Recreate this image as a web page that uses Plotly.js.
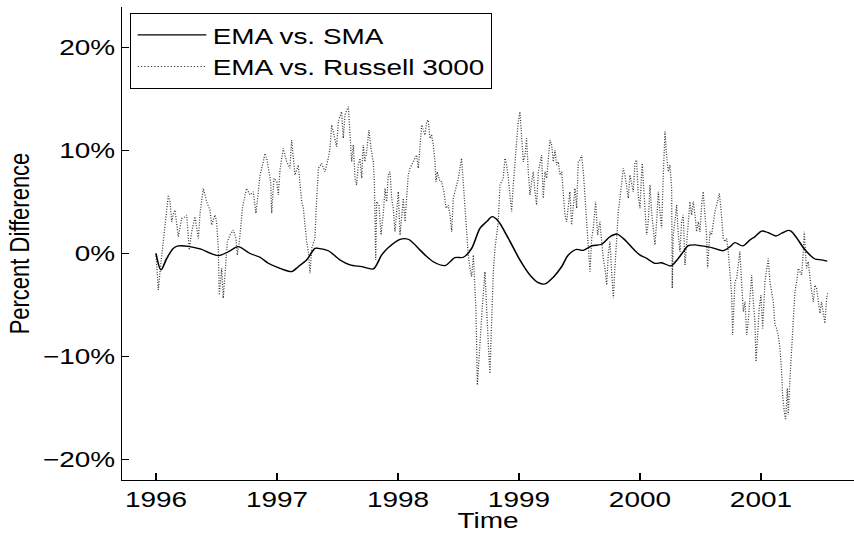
<!DOCTYPE html>
<html>
<head>
<meta charset="utf-8">
<script src="https://cdn.plot.ly/plotly-3.0.1.min.js"></script>
<style>
html,body{margin:0;padding:0;background:#fff;overflow:hidden;width:854px;height:533px;}
#chart{width:672px;height:533px;transform:scaleX(1.2708);transform-origin:0 0;}
</style>
</head>
<body>
<div id="chart"></div>
<script>
// EMA vs. SMA (percent difference)
const smaYears = [1996.000,1996.041,1996.088,1996.143,1996.184,1996.267,1996.364,1996.515,1996.598,1996.680,1996.777,1996.860,1996.928,1997.025,1997.121,1997.176,1997.245,1997.314,1997.341,1997.424,1997.521,1997.603,1997.700,1997.796,1997.865,1997.920,1998.017,1998.085,1998.182,1998.220,1998.292,1998.388,1998.471,1998.540,1998.609,1998.678,1998.733,1998.779,1998.829,1998.912,1999.008,1999.091,1999.160,1999.215,1999.283,1999.353,1999.407,1999.477,1999.531,1999.601,1999.684,1999.752,1999.812,1999.876,1999.945,2000.000,2000.055,2000.124,2000.179,2000.256,2000.317,2000.358,2000.399,2000.455,2000.496,2000.593,2000.689,2000.744,2000.785,2000.849,2000.909,2000.950,2001.006,2001.060,2001.124,2001.171,2001.226,2001.250,2001.295,2001.350,2001.405,2001.446,2001.502,2001.548];
const smaPct = [0.0,-1.6,-0.5,0.5,0.73,0.7,0.44,-0.2,0.17,0.66,0.0,-0.37,-0.95,-1.44,-1.76,-1.28,-0.63,0.5,0.5,0.27,-0.63,-1.1,-1.28,-1.5,-0.15,0.57,1.38,1.38,0.34,-0.1,-0.8,-1.18,-0.4,-0.37,0.5,2.45,3.09,3.57,3.15,1.47,-0.63,-2.09,-2.83,-2.96,-2.31,-1.28,-0.15,0.4,0.3,0.73,0.9,1.63,1.89,1.31,0.44,-0.15,-0.47,-0.95,-0.9,-1.21,-0.47,0.17,0.76,0.83,0.76,0.57,0.27,0.66,1.05,0.73,1.31,1.63,2.18,2.02,1.7,1.96,2.25,2.15,1.53,0.57,-0.15,-0.53,-0.63,-0.73];

// EMA vs. Russell 3000 (percent difference)
const rusYears = [
1996.000,1996.019,1996.040,1996.074,1996.102,1996.116,1996.130,1996.143,1996.157,1996.184,1996.212,1996.226,1996.254,1996.275,1996.295,1996.322,1996.350,1996.364,1996.391,1996.419,1996.446,1996.460,1996.488,1996.501,1996.515,1996.523,1996.543,1996.556,1996.579,1996.590,1996.612,1996.639,1996.661,1996.672,1996.689,1996.700,1996.716,1996.749,1996.777,1996.804,1996.826,1996.846,1996.860,1996.887,1996.901,1996.915,1996.928,1996.948,1996.956,1996.975,1996.998,1997.011,1997.025,1997.052,1997.080,1997.107,
1997.121,1997.135,1997.149,1997.176,1997.190,1997.204,1997.218,1997.231,1997.245,1997.259,1997.273,1997.287,1997.314,1997.322,1997.333,1997.342,1997.369,1997.397,1997.424,1997.438,1997.452,1997.479,1997.493,1997.507,1997.534,1997.548,1997.562,1997.590,1997.603,1997.617,1997.631,1997.645,1997.658,1997.672,1997.686,1997.700,1997.713,1997.727,1997.741,1997.760,1997.777,1997.796,1997.805,1997.816,1997.824,1997.843,1997.860,1997.879,1997.893,1997.906,1997.920,1997.934,1997.948,1997.961,1997.975,1997.989,1998.003,1998.017,1998.030,1998.044,1998.058,1998.072,1998.085,1998.099,1998.127,1998.154,1998.168,1998.182,1998.196,1998.223,
1998.237,1998.251,1998.264,1998.278,1998.292,1998.306,1998.314,1998.325,1998.333,1998.347,1998.361,1998.380,1998.397,1998.416,1998.430,1998.444,1998.457,1998.471,1998.499,1998.526,1998.540,1998.554,1998.567,1998.581,1998.595,1998.609,1998.623,1998.636,1998.645,1998.656,1998.672,1998.686,1998.700,1998.719,1998.733,1998.747,1998.760,1998.774,1998.788,1998.802,1998.815,1998.829,1998.843,1998.870,1998.884,1998.898,1998.912,1998.926,1998.939,1998.953,1998.967,1998.981,1998.994,1999.008,1999.022,1999.036,1999.050,1999.063,1999.077,1999.091,1999.105,1999.118,1999.132,1999.146,1999.160,1999.174,1999.187,1999.201,1999.215,1999.229,1999.242,1999.256,1999.270,1999.284,1999.298,1999.311,1999.325,1999.339,
1999.353,1999.366,1999.380,1999.394,1999.408,1999.421,1999.435,1999.449,1999.463,1999.477,1999.490,1999.504,1999.518,1999.532,1999.545,1999.559,1999.573,1999.587,1999.601,1999.614,1999.634,1999.650,1999.669,1999.683,1999.697,1999.711,1999.725,1999.738,1999.752,1999.766,1999.780,1999.793,1999.807,1999.821,1999.835,1999.848,1999.862,1999.876,1999.890,1999.904,1999.917,1999.931,1999.945,1999.959,1999.972,1999.986,2000.000,2000.014,2000.019,2000.028,2000.041,2000.055,2000.069,2000.083,2000.096,2000.110,2000.124,2000.138,2000.152,2000.165,2000.179,2000.193,2000.207,2000.220,2000.234,2000.248,2000.262,2000.267,2000.275,2000.289,2000.303,2000.317,2000.331,2000.344,2000.358,2000.372,2000.386,2000.399,2000.413,2000.427,2000.441,2000.455,
2000.468,2000.482,2000.496,2000.510,2000.523,2000.537,2000.551,2000.559,2000.570,2000.579,2000.592,2000.606,2000.620,2000.634,2000.647,2000.656,2000.669,2000.680,2000.689,2000.703,2000.716,2000.730,2000.744,2000.758,2000.766,2000.777,2000.785,2000.799,2000.813,2000.826,2000.840,2000.854,2000.868,2000.882,2000.895,2000.909,2000.923,2000.937,2000.950,2000.959,2000.970,2000.986,2001.000,2001.014,2001.025,2001.033,2001.047,2001.061,2001.074,2001.088,2001.102,2001.116,2001.129,2001.143,2001.157,2001.171,2001.179,2001.193,2001.204,2001.218,2001.226,2001.240,2001.254,2001.267,2001.281,2001.295,2001.309,2001.322,2001.336,2001.350,2001.358,2001.369,2001.377,2001.391,2001.405,2001.419,2001.433,2001.446,2001.460,2001.474,2001.488,2001.501,2001.515,2001.529,2001.543,2001.551];
const rusPct = [
0.0,-3.54,-1.0,2.45,5.68,5.03,3.09,3.8,4.22,1.63,3.41,3.41,3.74,0.34,2.12,3.58,1.46,3.9,6.33,5.03,4.22,2.77,3.74,3.09,0.5,-4.03,-1.44,-4.35,-0.79,1.14,1.80,2.28,1.46,-0.15,1.14,3.09,4.55,6.33,5.68,6.0,3.9,6.0,7.62,8.91,9.72,9.24,8.11,6.97,3.9,7.3,6.97,5.68,8.11,10.21,8.91,8.27,
11.02,9.40,7.62,8.59,6.65,5.03,4.39,2.45,1.15,0.18,-1.92,0.5,1.46,3.9,6.65,8.27,8.75,7.94,9.24,10.21,12.48,11.18,10.37,12.8,13.77,11.18,13.45,14.26,11.83,8.91,10.54,7.30,6.65,8.59,9.24,7.30,10.54,8.91,9.89,11.99,10.21,8.91,6.97,-0.63,5.03,4.71,1.80,3.9,6.33,5.03,7.62,7.94,5.36,4.39,2.12,4.71,6.0,1.80,3.9,5.36,3.09,5.68,7.62,8.27,8.91,9.56,8.27,10.69,12.48,11.5,
12.8,12.96,11.18,11.5,10.54,8.91,6.97,7.94,7.62,6.97,6.97,6.0,4.39,4.71,3.74,2.12,5.36,6.0,7.30,9.24,6.65,4.07,1.15,-0.15,-1.44,-2.25,-0.15,-2.74,-5.65,-12.77,-9.21,-7.27,-4.68,-1.76,-6.62,-8.89,-11.64,-5.65,-1.76,0.5,1.80,3.09,6.65,7.30,9.24,8.59,7.30,6.0,4.07,6.65,8.91,11.18,12.8,13.77,11.5,8.91,9.56,11.18,7.94,5.68,6.97,7.94,6.0,4.71,7.94,8.59,9.56,5.36,7.94,7.30,9.24,11.02,10.54,8.91,10.05,8.59,8.91,7.62,
7.94,6.33,3.74,3.09,5.03,6.0,2.77,5.03,6.33,4.39,8.91,9.08,9.56,7.94,5.68,3.09,1.15,-1.76,1.46,2.45,5.03,1.80,3.09,1.15,-0.47,-1.44,-3.07,-0.15,1.15,-1.76,-4.35,-1.44,1.80,4.07,5.36,6.97,8.27,7.62,6.65,5.36,7.62,6.65,6.0,8.91,9.08,5.68,4.39,7.94,8.75,6.97,4.71,1.80,3.09,6.65,4.07,2.12,0.83,3.09,6.0,4.07,2.45,7.62,11.83,9.56,7.94,8.59,6.33,-3.39,1.80,3.09,4.71,1.80,0.18,3.09,3.74,-1.11,0.83,2.77,5.03,3.74,5.03,3.74,
2.12,3.09,2.12,4.71,6.0,3.74,1.80,-1.44,0.5,2.12,1.80,3.09,4.07,4.71,5.68,5.84,4.39,3.09,1.46,1.15,1.46,0.18,-2.09,-4.03,-7.91,-4.03,-2.74,-2.41,-0.79,0.18,-2.74,-5.65,-4.68,-7.91,-6.62,-4.03,-2.09,-4.68,-6.62,-10.5,-7.91,-5.33,-4.03,-7.27,-4.68,-2.74,-1.60,-0.47,-2.74,-4.03,-4.68,-6.95,-7.27,-7.91,-9.21,-11.48,-13.74,-15.36,-16.17,-13.09,-15.68,-12.12,-9.21,-5.33,-3.71,-2.74,-1.44,-1.76,-2.09,0.18,2.12,-0.15,-1.44,-0.79,-2.41,-3.71,-4.68,-3.07,-3.39,-4.68,-5.82,-4.68,-5.99,-6.78,-4.35,-3.87];

const yearTicks = [1996, 1997, 1998, 1999, 2000, 2001];
const yearLabels = ['1996', '1997', '1998', '1999', '2000', '2001'];
const pctTicks = [-20, -10, 0, 10, 20];
const pctLabels = ['\u221220%', '\u221210%', '0%', '10%', '20%'];
const seriesNames = ['EMA vs. SMA', 'EMA vs. Russell 3000'];

const font = 'Liberation Sans, Arial, Helvetica, sans-serif';

const traces = [
  {x: rusYears, y: rusPct, type: 'scatter', mode: 'lines', name: seriesNames[1],
   line: {color: '#3a3a3a', width: 1, dash: '1px,1.6px'}, legendrank: 2},
  {x: smaYears, y: smaPct, type: 'scatter', mode: 'lines', name: seriesNames[0],
   line: {color: '#000', width: 1.3, shape: 'spline', smoothing: 0.8}, legendrank: 1}
];

const layout = {
  width: 672, height: 533,
  margin: {l: 96, r: 0, t: 7, b: 53, pad: 0},
  paper_bgcolor: '#fff', plot_bgcolor: '#fff',
  font: {family: font, size: 22, color: '#000'},
  showlegend: true,
  legend: {x: 0.011, y: 0.987, xanchor: 'left', yanchor: 'top',
           bgcolor: '#fff', bordercolor: '#000', borderwidth: 1,
           itemwidth: 54,
           font: {family: font, size: 22, color: '#000'}, traceorder: 'normal'},
  xaxis: {range: [1995.719, 2001.769], tickmode: 'array', tickvals: yearTicks, ticktext: yearLabels,
          ticks: 'inside', ticklen: 7, tickwidth: 1, tickcolor: '#000',
          showline: true, linecolor: '#000', linewidth: 1, mirror: false,
          showgrid: false, zeroline: false, automargin: false,
          tickfont: {family: font, size: 22, color: '#000'},
          title: {text: 'Time', font: {family: font, size: 22, color: '#000'}, standoff: 2}},
  yaxis: {range: [-21.99, 23.93], tickmode: 'array', tickvals: pctTicks, ticktext: pctLabels,
          ticks: 'inside', ticklen: 5.5, tickwidth: 1, tickcolor: '#000',
          showline: true, linecolor: '#000', linewidth: 1, mirror: false,
          showgrid: false, zeroline: false, automargin: false,
          tickfont: {family: font, size: 22, color: '#000'},
          title: {text: 'Percent Difference', font: {family: font, size: 22, color: '#000'}, standoff: 4}}
};

Plotly.newPlot('chart', traces, layout, {staticPlot: true, displayModeBar: false});
</script>
</body>
</html>
